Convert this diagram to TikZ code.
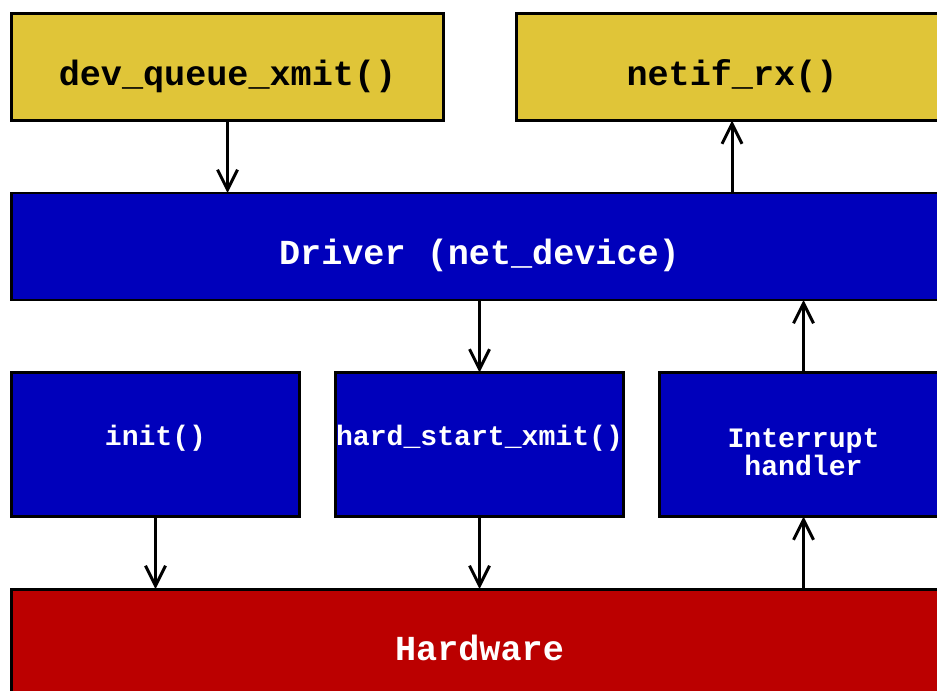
\documentclass[tikz,border=0pt]{standalone}
\usepackage{fontspec}
\setmonofont{Liberation Mono}
\usepackage{xcolor}
\usepackage{tikz}
\usetikzlibrary{arrows.meta,positioning}

\definecolor{apiyellow}{HTML}{E0C538}
\definecolor{drvblue}{HTML}{0000BB}
\definecolor{hwred}{HTML}{BB0000}

\begin{document}
\begin{tikzpicture}[
node distance=1.45cm and 1.45cm,
every node/.style={outer sep=0pt},
box/.style={draw, line width=1.7pt, align=center, inner xsep=0pt},
bigbox/.style={box, minimum width=18.72cm, minimum height=2.14cm, text=white, text height=21pt, text depth=0pt, font=\ttfamily\bfseries\fontsize{20}{24}\selectfont},
apibox/.style={box, fill=apiyellow, minimum width=8.64cm, minimum height=2.14cm, text height=21pt, text depth=0pt, font=\ttfamily\bfseries\fontsize{20}{24}\selectfont},
fnbox/.style={box, fill=drvblue, text=white, minimum width=5.76cm, minimum height=2.88cm, text height=1.6pt, text depth=0pt, font=\ttfamily\bfseries\fontsize{16}{16}\selectfont},
arr/.style={-{Straight Barb[length=0.4cm, width=0.4cm]}, line width=1.7pt}
]
\useasboundingbox (0,0) rectangle (18.74,-13.8);

\node[apibox, anchor=north west] (devqueue) at (0.23,-0.27) {dev\_queue\_xmit()};
\node[apibox, right=of devqueue] (netifrx) {netif\_rx()};
\node[bigbox, fill=drvblue, below=of devqueue.south west, anchor=north west] (driver) {Driver (net\_device)};
\node[fnbox, below=of driver.south west, anchor=north west] (init) {init()};
\node[fnbox, right=0.72cm of init] (hardxmit) {hard\_start\_xmit()};
\node[fnbox, text height=35.6pt, right=0.72cm of hardxmit] (irq) {Interrupt\\handler};
\node[bigbox, fill=hwred, below=of init.south west, anchor=north west] (hardware) {Hardware};

\draw[arr] (devqueue.south) -- (devqueue.south |- driver.north);
\draw[arr] (netifrx.south |- driver.north) -- (netifrx.south);
\draw[arr] (hardxmit.north |- driver.south) -- (hardxmit.north);
\draw[arr] (irq.north) -- (irq.north |- driver.south);
\draw[arr] (init.south) -- (init.south |- hardware.north);
\draw[arr] (hardxmit.south) -- (hardxmit.south |- hardware.north);
\draw[arr] (irq.south |- hardware.north) -- (irq.south);
\end{tikzpicture}
\end{document}
